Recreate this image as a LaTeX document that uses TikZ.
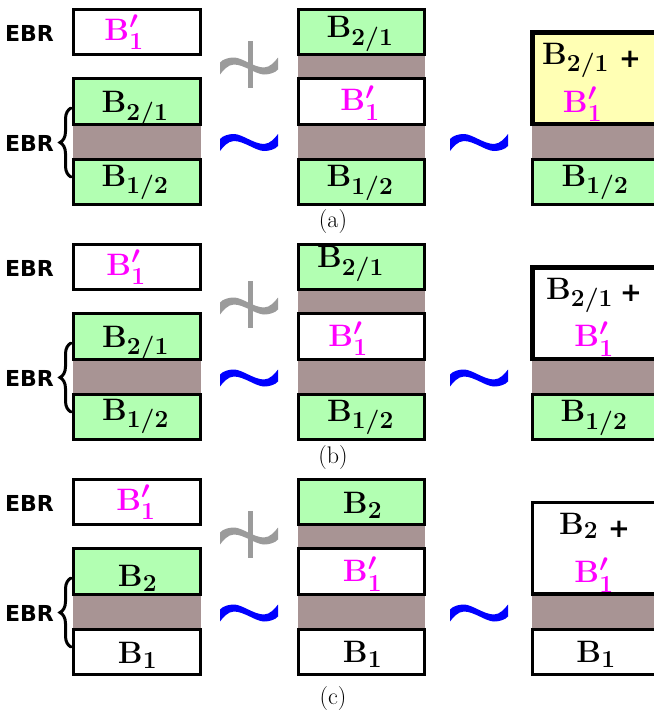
\RequirePackage{fix-cm}
\documentclass[tikz,border=0pt]{standalone}
\usepackage{fontspec}
\newfontfamily\ebrfont{DejaVu Sans}
\usetikzlibrary{decorations.pathreplacing}
\DeclareMathSizes{31}{31}{24.5}{18}
\definecolor{boxgreen}{RGB}{178,255,178}
\definecolor{bandbrown}{RGB}{168,148,148}
\definecolor{boxyellow}{RGB}{255,255,180}
\definecolor{tildegray}{RGB}{155,155,155}
\definecolor{mag}{RGB}{255,0,255}
\newcommand{\Bsub}[1]{$\mathbf{B}_{#1}$}
\newcommand{\Bprime}{$\mathbf{B}'_{1}$}
\tikzset{
  cell/.style={draw=black, line width=3pt, minimum width=126.5pt, minimum height=45.5pt, inner sep=0pt, outer sep=0pt},
  wcell/.style={cell, fill=white},
  gcell/.style={cell, fill=boxgreen},
  bigthick/.style={draw=black, line width=4.8pt, minimum width=187pt, minimum height=91.5pt, inner sep=0pt},
  bigthin/.style={draw=black, line width=3.2pt, minimum width=187pt, minimum height=91.5pt, inner sep=0pt},
  lbl/.style={inner sep=0pt, font=\fontsize{31}{34}\selectfont\boldmath},
  rlbl/.style={inner sep=0pt, font=\fontsize{31}{34}\selectfont\boldmath},
  ebr/.style={inner sep=0pt, font=\ebrfont\bfseries\fontsize{22}{25}\selectfont},
  plussign/.style={inner sep=0pt, font=\ebrfont\bfseries\fontsize{26}{30}\selectfont},
  bar/.style={draw=tildegray, line width=5pt},
  captxt/.style={inner sep=0pt, font=\fontsize{24}{28}\selectfont},
  band/.style={fill=bandbrown},
  bracestyle/.style={decorate, decoration={brace, amplitude=11pt}, line width=3pt, line cap=round},
  tildeshape/.pic={
    \fill[pic actions] (0,5) .. controls (3,1.5) and (9,0) .. (14,0)
      .. controls (22,0) and (34,10) .. (44,10)
      .. controls (50,10) and (55,4) .. (58,0)
      -- (58,12)
      .. controls (55,15.5) and (49,17) .. (44,17)
      .. controls (36,17) and (24,7) .. (14,7)
      .. controls (8,7) and (3,13) .. (0,17) -- cycle;
  }
}
\begin{document}
\begin{tikzpicture}[x=1pt,y=-1pt]
\useasboundingbox (0,0) rectangle (654,713);
\clip (0,0) rectangle (654,713);
% ================= panel (a) =================
\begin{scope}
 \fill[band] (73,124) rectangle (200.5,159);
 \fill[band] (298,54.5) rectangle (425,79);
 \fill[band] (298,124) rectangle (425,159);
 \fill[band] (532,124) rectangle (720,159);
 \node[wcell] (a-l1) at (136.75,32) {};
 \node[gcell] (a-l2) at (136.75,101.5) {};
 \node[gcell] (a-l3) at (136.75,181.75) {};
 \node[gcell] (a-m1) at (361.5,32) {};
 \node[wcell] (a-m2) at (361.5,101.5) {};
 \node[gcell] (a-m3) at (361.5,181.75) {};
 \node[bigthick, fill=boxyellow] (a-r1) at (626,78.25) {};
 \node[gcell, minimum width=187pt] (a-r3) at (626,181.75) {};
 \node[lbl, text=mag] (a-l1t) at (124,32.5) {\Bprime};
 \node[lbl] (a-l2t) at (135,109) {\Bsub{2/1}};
 \node[lbl] (a-l3t) at (135,182.5) {\Bsub{1/2}};
 \node[lbl] (a-m1t) at (360,34) {\Bsub{2/1}};
 \node[lbl, text=mag] (a-m2t) at (360,103) {\Bprime};
 \node[lbl] (a-m3t) at (360,183) {\Bsub{1/2}};
 \node[rlbl, anchor=base west] (a-r1t) at (542,64) {\Bsub{2/1}};
 \node[plussign] (a-r1p) at (630,59.5) {+};
 \node[rlbl, text=mag] (a-r1b) at (582.5,104.5) {\Bprime};
 \node[lbl] (a-r3t) at (595,182.5) {\Bsub{1/2}};
 \pic[fill=tildegray] (a-ns) at (220,57.5) {tildeshape};
 \coordinate (a-bt) at (250,41);
 \coordinate (a-bb) at (250,88);
 \draw[bar] (a-bt) -- (a-bb);
 \pic[fill=blue] (a-s1) at (220,134) {tildeshape};
 \pic[fill=blue] (a-s2) at (450,134) {tildeshape};
 \node[ebr] (a-e1) at (29.5,33.5) {EBR};
 \node[ebr] (a-e2) at (29.5,143) {EBR};
 \coordinate (a-brt) at (71,108);
 \coordinate (a-brb) at (71,177);
 \draw[bracestyle] (a-brb) -- (a-brt);
 \node[captxt] (a-cap) at (333,222) {(a)};
\end{scope}
% ================= panel (b) =================
\begin{scope}[shift={(0,235)}]
 \fill[band] (73,124) rectangle (200.5,159);
 \fill[band] (298,54.5) rectangle (425,79);
 \fill[band] (298,124) rectangle (425,159);
 \fill[band] (532,124) rectangle (720,159);
 \node[wcell] (b-l1) at (136.75,32) {};
 \node[gcell] (b-l2) at (136.75,101.5) {};
 \node[gcell] (b-l3) at (136.75,181.75) {};
 \node[gcell] (b-m1) at (361.5,32) {};
 \node[wcell] (b-m2) at (361.5,101.5) {};
 \node[gcell] (b-m3) at (361.5,181.75) {};
 \node[bigthick, fill=white] (b-r1) at (626,78.25) {};
 \node[gcell, minimum width=187pt] (b-r3) at (626,181.75) {};
 \node[lbl, text=mag] (b-l1t) at (126,32.5) {\Bprime};
 \node[lbl] (b-l2t) at (135.5,108.4) {\Bsub{2/1}};
 \node[lbl] (b-l3t) at (135.5,181.4) {\Bsub{1/2}};
 \node[lbl] (b-m1t) at (350.5,29) {\Bsub{2/1}};
 \node[lbl, text=mag] (b-m2t) at (348,103.7) {\Bprime};
 \node[lbl] (b-m3t) at (360.5,182.5) {\Bsub{1/2}};
 \node[rlbl, anchor=base west] (b-r1t) at (546,64) {\Bsub{2/1}};
 \node[plussign] (b-r1p) at (631,58.5) {+};
 \node[rlbl, text=mag] (b-r1b) at (594,104) {\Bprime};
 \node[lbl] (b-r3t) at (594,183) {\Bsub{1/2}};
 \pic[fill=tildegray] (b-ns) at (220,62.5) {tildeshape};
 \coordinate (b-bt) at (250,46);
 \coordinate (b-bb) at (250,93);
 \draw[bar] (b-bt) -- (b-bb);
 \pic[fill=blue] (b-s1) at (220,134.5) {tildeshape};
 \pic[fill=blue] (b-s2) at (450,134.5) {tildeshape};
 \node[ebr] (b-e1) at (29.5,33.5) {EBR};
 \node[ebr] (b-e2) at (29.5,143) {EBR};
 \coordinate (b-brt) at (71,108);
 \coordinate (b-brb) at (71,177);
 \draw[bracestyle] (b-brb) -- (b-brt);
 \node[captxt] (b-cap) at (333,223) {(b)};
\end{scope}
% ================= panel (c) =================
\begin{scope}[shift={(0,470)}]
 \fill[band] (73,124) rectangle (200.5,159);
 \fill[band] (298,54.5) rectangle (425,79);
 \fill[band] (298,124) rectangle (425,159);
 \fill[band] (532,124) rectangle (720,159);
 \node[wcell] (c-l1) at (136.75,32) {};
 \node[gcell] (c-l2) at (136.75,101.5) {};
 \node[wcell] (c-l3) at (136.75,181.75) {};
 \node[gcell] (c-m1) at (361.5,32) {};
 \node[wcell] (c-m2) at (361.5,101.5) {};
 \node[wcell] (c-m3) at (361.5,181.75) {};
 \node[bigthin, fill=white] (c-r1) at (626,78.25) {};
 \node[wcell, minimum width=187pt] (c-r3) at (626,181.75) {};
 \node[lbl, text=mag] (c-l1t) at (135.8,32.5) {\Bprime};
 \node[lbl] (c-l2t) at (137.5,108.3) {\Bsub{2}};
 \node[lbl] (c-l3t) at (137.5,185) {\Bsub{1}};
 \node[lbl] (c-m1t) at (362.5,35) {\Bsub{2}};
 \node[lbl, text=mag] (c-m2t) at (362.5,103.8) {\Bprime};
 \node[lbl] (c-m3t) at (362.5,184) {\Bsub{1}};
 \node[rlbl, anchor=base west] (c-r1t) at (559,64) {\Bsub{2}};
 \node[plussign] (c-r1p) at (619,59) {+};
 \node[rlbl, text=mag] (c-r1b) at (594,105) {\Bprime};
 \node[lbl] (c-r3t) at (596,184) {\Bsub{1}};
 \pic[fill=tildegray] (c-ns) at (220,57.5) {tildeshape};
 \coordinate (c-bt) at (250,41);
 \coordinate (c-bb) at (250,88);
 \draw[bar] (c-bt) -- (c-bb);
 \pic[fill=blue] (c-s1) at (220,134.5) {tildeshape};
 \pic[fill=blue] (c-s2) at (450,134.5) {tildeshape};
 \node[ebr] (c-e1) at (29.5,33.5) {EBR};
 \node[ebr] (c-e2) at (29.5,143) {EBR};
 \coordinate (c-brt) at (71,108);
 \coordinate (c-brb) at (71,177);
 \draw[bracestyle] (c-brb) -- (c-brt);
 \node[captxt] (c-cap) at (333,228.5) {(c)};
\end{scope}
\end{tikzpicture}
\end{document}
